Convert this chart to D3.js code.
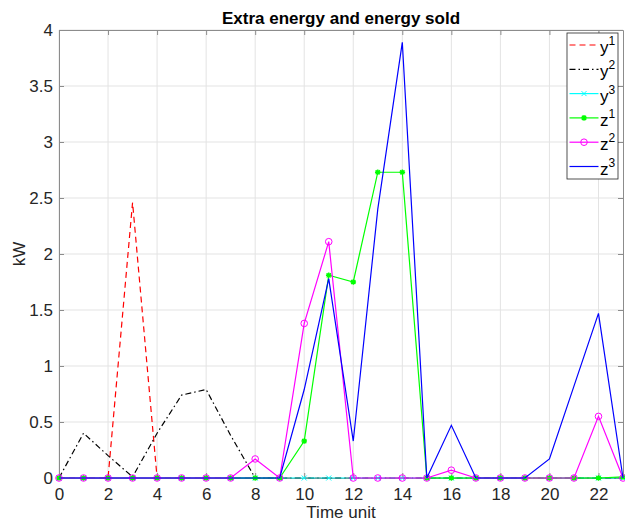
<!DOCTYPE html>
<html>
<head>
<meta charset="utf-8">
<script src="https://cdn.jsdelivr.net/npm/d3@7"></script>
<style>
  body { margin: 0; background: #fff; }
  svg { display: block; font-family: "Liberation Sans", Arial, sans-serif; }
</style>
</head>
<body>
<svg id="chart" width="625" height="523"></svg>
<script>
// time axis and the six series (kW)
const timeUnits = [0, 1, 2, 3, 4, 5, 6, 7, 8, 9, 10, 11, 12, 13, 14, 15, 16, 17, 18, 19, 20, 21, 22, 23];
const y1 = [0, 0, 0, 2.46, 0, 0, 0, 0, 0, 0, 0, 0, 0, 0, 0, 0, 0, 0, 0, 0, 0, 0, 0, 0];
const y2 = [0, 0.40, 0.20, 0.01, 0.40, 0.74, 0.79, 0.38, 0, 0, 0, 0, 0, 0, 0, 0, 0, 0, 0, 0, 0, 0, 0, 0];
const y3 = [0, 0, 0, 0, 0, 0, 0, 0, 0, 0, 0, 0, 0, 0, 0, 0, 0, 0, 0, 0, 0, 0, 0, 0];
const z1 = [0, 0, 0, 0, 0, 0, 0, 0, 0, 0, 0.33, 1.81, 1.75, 2.73, 2.73, 0, 0, 0, 0, 0, 0, 0, 0, 0.01];
const z2 = [0, 0, 0, 0, 0, 0, 0, 0, 0.17, 0, 1.38, 2.11, 0, 0, 0, 0, 0.07, 0, 0, 0, 0, 0, 0.55, 0];
const z3 = [0, 0, 0, 0, 0, 0, 0, 0, 0, 0, 0.79, 1.78, 0.33, 2.40, 3.89, 0, 0.47, 0, 0, 0, 0.17, 0.82, 1.47, 0];

const xTicks = [0, 2, 4, 6, 8, 10, 12, 14, 16, 18, 20, 22];
const yTicks = [0, 0.5, 1, 1.5, 2, 2.5, 3, 3.5, 4];

const series = [
  { name: 'y', sup: '1', values: y1, color: '#ff0000', dash: '6,4', marker: null },
  { name: 'y', sup: '2', values: y2, color: '#000000', dash: '6,3,1.5,3', marker: null },
  { name: 'y', sup: '3', values: y3, color: '#00ffff', dash: null, marker: 'x' },
  { name: 'z', sup: '1', values: z1, color: '#00ff00', dash: null, marker: 'star' },
  { name: 'z', sup: '2', values: z2, color: '#ff00ff', dash: null, marker: 'o' },
  { name: 'z', sup: '3', values: z3, color: '#0000ff', dash: null, marker: null }
];

const margin = { top: 30, right: 2, bottom: 45, left: 59 };
const width = 625 - margin.left - margin.right;
const height = 523 - margin.top - margin.bottom;

const svg = d3.select('#chart');
const g = svg.append('g').attr('transform', `translate(${margin.left},${margin.top})`);

const x = d3.scaleLinear().domain([0, 23]).range([0, width]);
const y = d3.scaleLinear().domain([0, 4]).range([height, 0]);

// grid
g.append('g').selectAll('line').data(xTicks).join('line')
  .attr('x1', d => x(d)).attr('x2', d => x(d))
  .attr('y1', 0).attr('y2', height)
  .attr('stroke', '#e3e3e3').attr('stroke-width', 1);
g.append('g').selectAll('line').data(yTicks).join('line')
  .attr('y1', d => y(d)).attr('y2', d => y(d))
  .attr('x1', 0).attr('x2', width)
  .attr('stroke', '#e3e3e3').attr('stroke-width', 1);

// axes with inward ticks, box on all four sides
const axisColor = '#262626';
const styleAxis = sel => {
  sel.select('.domain').attr('stroke', '#8c8c8c');
  sel.selectAll('.tick line').attr('stroke', '#8c8c8c');
  sel.selectAll('.tick text').attr('fill', axisColor).style('font-size', '17px');
};
const fmt = d3.format('~g');

g.append('g').attr('transform', `translate(0,${height})`)
  .call(d3.axisBottom(x).tickValues(xTicks).tickFormat(fmt).tickSizeInner(-5).tickSizeOuter(0).tickPadding(10))
  .call(styleAxis);
g.append('g')
  .call(d3.axisTop(x).tickValues(xTicks).tickSizeInner(-5).tickSizeOuter(0).tickFormat(''))
  .call(styleAxis);
g.append('g')
  .call(d3.axisLeft(y).tickValues(yTicks).tickFormat(fmt).tickSizeInner(-5).tickSizeOuter(0).tickPadding(6))
  .call(styleAxis);
g.append('g').attr('transform', `translate(${width},0)`)
  .call(d3.axisRight(y).tickValues(yTicks).tickSizeInner(-5).tickSizeOuter(0).tickFormat(''))
  .call(styleAxis);

// marker drawing
function drawMarker(sel, type, color, cx, cy) {
  if (type === 'o') {
    sel.append('circle').attr('cx', cx).attr('cy', cy).attr('r', 3.3)
      .attr('fill', 'none').attr('stroke', color).attr('stroke-width', 1);
  } else if (type === 'x') {
    const s = 2.5;
    sel.append('path')
      .attr('d', `M${cx - s},${cy - s}L${cx + s},${cy + s}M${cx - s},${cy + s}L${cx + s},${cy - s}`)
      .attr('stroke', color).attr('stroke-width', 1);
  } else if (type === 'star') {
    const s = 2.8, t = 2.1;
    sel.append('path')
      .attr('d', `M${cx - s},${cy}L${cx + s},${cy}M${cx},${cy - s}L${cx},${cy + s}` +
                 `M${cx - t},${cy - t}L${cx + t},${cy + t}M${cx - t},${cy + t}L${cx + t},${cy - t}`)
      .attr('stroke', color).attr('stroke-width', 1.4);
  }
}

const line = d3.line().x((d, i) => x(timeUnits[i])).y(d => y(d));

series.forEach(s => {
  const sg = g.append('g');
  sg.append('path').datum(s.values)
    .attr('d', line)
    .attr('fill', 'none')
    .attr('stroke', s.color)
    .attr('stroke-width', 1.2)
    .attr('stroke-dasharray', s.dash);
  if (s.marker) {
    s.values.forEach((v, i) => drawMarker(sg, s.marker, s.color, x(timeUnits[i]), y(v)));
  }
});

// title and axis labels
svg.append('text')
  .attr('x', margin.left + width / 2).attr('y', 24)
  .attr('text-anchor', 'middle')
  .style('font-size', '17px').style('font-weight', 'bold')
  .attr('fill', '#000')
  .text('Extra energy and energy sold');

svg.append('text')
  .attr('x', margin.left + width / 2).attr('y', 518)
  .attr('text-anchor', 'middle')
  .style('font-size', '17px')
  .attr('fill', axisColor)
  .text('Time unit');

svg.append('text')
  .attr('transform', `translate(25,${margin.top + height / 2}) rotate(-90)`)
  .attr('text-anchor', 'middle')
  .style('font-size', '17px')
  .attr('fill', axisColor)
  .text('kW');

// legend
const lg = svg.append('g').attr('transform', 'translate(567,33)');
const rowH = 24.3;
lg.append('rect')
  .attr('x', 0).attr('y', 0)
  .attr('width', 51).attr('height', 146)
  .attr('fill', '#fff').attr('stroke', '#262626').attr('stroke-width', 0.8);

series.forEach((s, i) => {
  const cy = 12 + i * rowH;
  const row = lg.append('g');
  row.append('line')
    .attr('x1', 2.5).attr('x2', 31.5)
    .attr('y1', cy).attr('y2', cy)
    .attr('stroke', s.color).attr('stroke-width', 1.2)
    .attr('stroke-dasharray', s.dash);
  if (s.marker) drawMarker(row, s.marker, s.color, 17, cy);
  const t = row.append('text')
    .attr('x', 33).attr('y', cy + 8)
    .style('font-size', '17px')
    .attr('fill', '#000');
  t.append('tspan').text(s.name);
  t.append('tspan').attr('dy', -8).style('font-size', '12px').text(s.sup);
});
</script>
</body>
</html>
